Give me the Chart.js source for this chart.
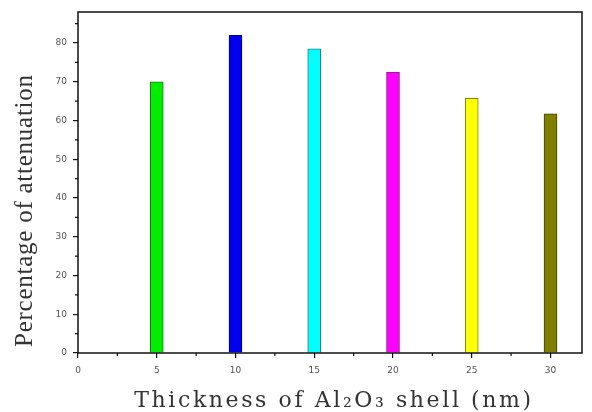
<!DOCTYPE html>
<html>
<head>
<meta charset="utf-8">
<script src="https://cdn.jsdelivr.net/npm/chart.js@4/dist/chart.umd.min.js"></script>
<style>
  html, body { margin: 0; padding: 0; background: #fff; }
  #wrap { width: 592px; height: 412px; }
</style>
</head>
<body>
<div id="wrap"><canvas id="c" width="592" height="412"></canvas></div>
<script>
// thickness of the shell (nm) and the attenuation
const thickness = [5, 10, 15, 20, 25, 30]
const attenuation = [70, 82, 78.5, 72.5, 65.7, 61.7]
const barColors = ['#00ee00', '#0000ee', '#00ffff', '#ff00ff', '#ffff00', '#808000']
const barEdges = ['#207020', '#000080', '#208080', '#802080', '#808020', '#404000']
const xTicks = [0, 5, 10, 15, 20, 25, 30]
const yTicks = [0, 10, 20, 30, 40, 50, 60, 70, 80]
const xMinor = [2.5, 7.5, 12.5, 17.5, 22.5, 27.5]
const yMinor = [5, 15, 25, 35, 45, 55, 65, 75, 85]
const xTitle = 'Thickness of Al₂O₃ shell (nm)'
const yTitle = 'Percentage of attenuation'

const points = thickness.map((t, i) => ({x: t, y: attenuation[i]}))

// box round the plot, the short minor ticks and the spaced-out axis titles
const frame = {
    id: 'frame',
    afterDatasetsDraw(chart) {
        const {ctx, chartArea: a, scales} = chart
        ctx.save()
        ctx.strokeStyle = '#111'
        ctx.lineWidth = 1.5
        ctx.strokeRect(a.left, a.top, a.right - a.left, a.bottom - a.top)
        ctx.lineWidth = 1.2
        ctx.beginPath()
        xMinor.forEach(v => {
            const px = scales.x.getPixelForValue(v)
            ctx.moveTo(px, a.bottom)
            ctx.lineTo(px, a.bottom + 3)
        })
        yMinor.forEach(v => {
            const py = scales.y.getPixelForValue(v)
            ctx.moveTo(a.left, py)
            ctx.lineTo(a.left - 3, py)
        })
        ctx.stroke()
        ctx.restore()
    },
    afterDraw(chart) {
        const {ctx, chartArea: a} = chart
        ctx.save()
        ctx.fillStyle = '#333'
        ctx.textBaseline = 'alphabetic'
        ctx.letterSpacing = '2.6px'
        ctx.font = '22px "DejaVu Serif"'
        ctx.textAlign = 'center'
        ctx.fillText(xTitle, (a.left + a.right) / 2 + 4, 407)
        ctx.letterSpacing = '0.75px'
        ctx.font = '25px "Liberation Serif"'
        ctx.translate(32, a.bottom - 6)
        ctx.rotate(-Math.PI / 2)
        ctx.textAlign = 'left'
        ctx.fillText(yTitle, 0, 0)
        ctx.restore()
    }
}

new Chart(document.getElementById('c').getContext('2d'), {
    type: 'bar',
    data: {
        datasets: [{
            data: points,
            backgroundColor: barColors,
            borderColor: barEdges,
            borderWidth: 1,
            barThickness: 13
        }]
    },
    options: {
        responsive: false,
        animation: false,
        layout: {padding: {top: 12, right: 10, left: 0, bottom: 0}},
        plugins: {legend: {display: false}, tooltip: {enabled: false}},
        scales: {
            x: {
                type: 'linear',
                offset: false,
                min: 0,
                max: 32,
                afterBuildTicks: s => { s.ticks = xTicks.map(v => ({value: v})) },
                afterFit: s => { s.height = 59 },
                grid: {offset: false, drawOnChartArea: false, tickLength: 5, color: '#111', lineWidth: 1.2},
                border: {display: false},
                ticks: {color: '#555', font: {family: 'DejaVu Sans', size: 9}, padding: 7, maxRotation: 0}
            },
            y: {
                min: 0,
                max: 88,
                afterBuildTicks: s => { s.ticks = yTicks.map(v => ({value: v})) },
                afterFit: s => { s.width = 78 },
                grid: {drawOnChartArea: false, tickLength: 5, color: '#111', lineWidth: 1.2},
                border: {display: false},
                ticks: {color: '#555', font: {family: 'DejaVu Sans', size: 9}, padding: 6}
            }
        }
    },
    plugins: [frame]
})
</script>
</body>
</html>
